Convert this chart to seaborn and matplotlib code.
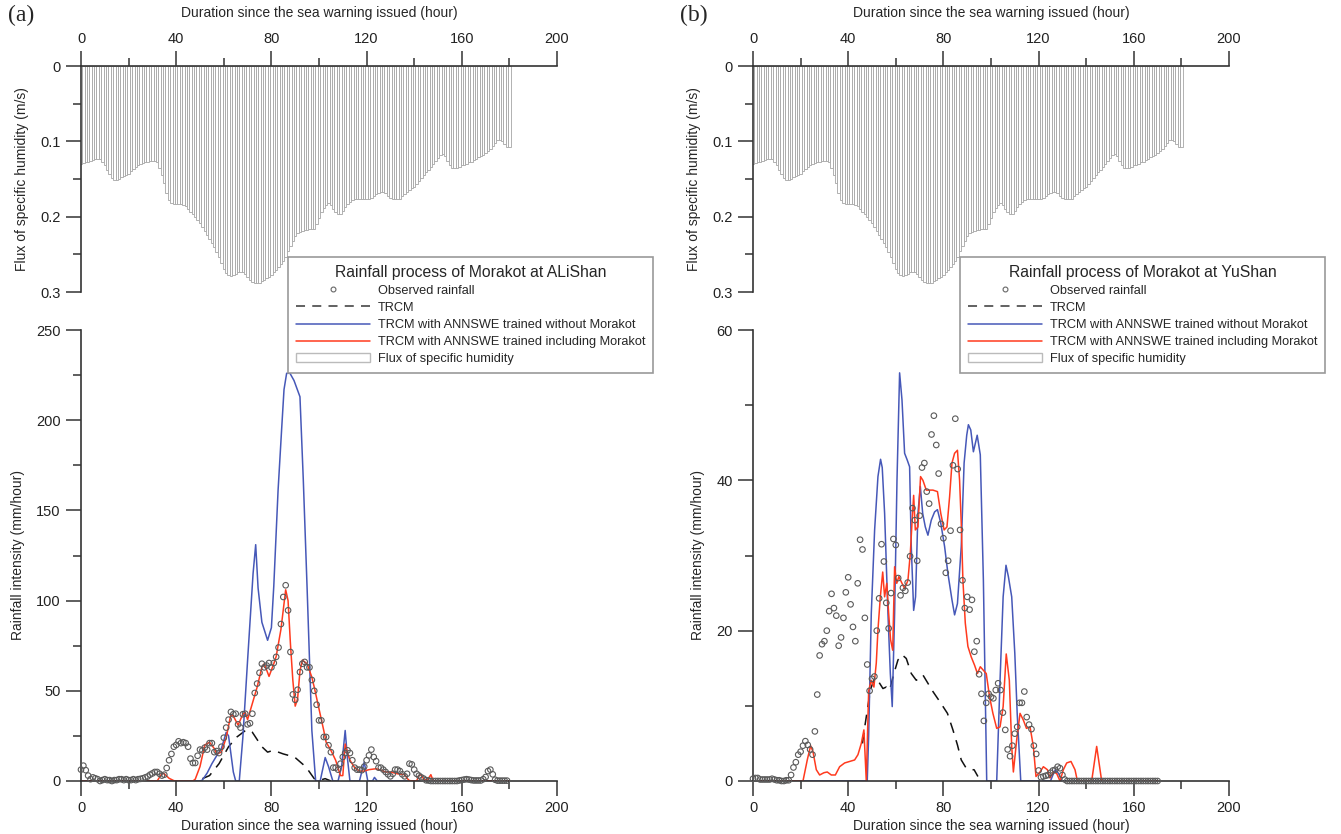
import numpy as np
import seaborn as sns
import matplotlib.pyplot as plt
from matplotlib.lines import Line2D
from matplotlib.patches import Patch

# flux of specific humidity (m/s), hourly from hour 0 to 180 (same record in both panels)
flux = [
    .130, .129, .128, .127, .126, .125, .124, .124, .124, .127,
    .132, .138, .144, .149, .151, .151, .150, .148, .146, .145,
    .143, .140, .137, .134, .132, .130, .129, .128, .127, .126,
    .126, .126, .127, .135, .145, .155, .168, .178, .182, .183,
    .183, .183, .183, .184, .186, .190, .194, .197, .200, .204,
    .209, .214, .219, .224, .230, .235, .240, .247, .254, .262,
    .269, .275, .278, .279, .278, .276, .274, .273, .273, .276,
    .280, .284, .287, .288, .288, .288, .286, .284, .282, .280,
    .277, .274, .271, .267, .263, .259, .253, .246, .239, .232,
    .226, .222, .220, .219, .218, .218, .217, .217, .216, .210,
    .202, .194, .188, .184, .182, .185, .190, .194, .196, .196,
    .192, .187, .183, .180, .178, .177, .176, .176, .176, .176,
    .176, .176, .175, .173, .170, .168, .167, .167, .169, .172,
    .175, .177, .177, .177, .176, .173, .170, .167, .164, .162,
    .160, .157, .153, .149, .145, .141, .138, .134, .130, .126,
    .122, .118, .117, .120, .126, .132, .135, .136, .135, .134,
    .132, .131, .130, .128, .127, .125, .123, .121, .119, .118,
    .116, .113, .110, .106, .102, .098, .098, .100, .104, .107,
    .108,
]

# (a) ALiShan -- observed rainfall (mm/hour), hourly from hour 0 to 179
obs_a = [
    6.3, 8.5, 6, 3, 1, 2, 1.5, 1, 0, 0.5,
    1, 0.5, 0.5, 0, 0.5, 0.5, 1, 1, 0.5, 1,
    0.5, 0.5, 1, 0.5, 1, 1.2, 1.5, 2, 2.5, 3.5,
    4.2, 5, 5, 4, 3, 3.5, 7.2, 11.5, 15, 19,
    20, 22, 21, 21.5, 21, 19, 12.4, 10, 10, 14,
    17.4, 17, 18.5, 17.4, 21, 21, 16, 16.6, 15.5, 19,
    24, 29.6, 34, 38.3, 37, 37.3, 31.4, 29.6, 37, 37.3,
    31.4, 32, 37.3, 48.8, 54, 60, 65, 63, 64, 65.4,
    63, 65.4, 68.8, 74, 87, 102, 108.5, 94.6, 71.5, 48,
    45, 50.6, 60.4, 65, 66, 63, 63, 56, 50, 42.3,
    33.6, 33.6, 24.4, 24.4, 19.8, 16, 7.4, 7.4, 6.3, 9.6,
    13.3, 15.5, 17, 15.5, 11.5, 7.4, 6.3, 6.3, 6, 8,
    11.5, 14.2, 17.4, 13.3, 11, 7.4, 7.4, 6.3, 5, 3.7,
    2.6, 4, 6.3, 6.3, 5.5, 3.7, 2.6, 4, 9.6, 9.2,
    6.3, 4, 3, 2, 1.3, 0.4, 0.3, 0, 0, 0,
    0, 0, 0, 0, 0, 0, 0, 0, 0, 0.3,
    0.5, 0.8, 1, 0.8, 0.5, 0.3, 0.3, 0.3, 0.3, 1,
    2.2, 5.5, 6.3, 3.7, 0.7, 0.2, 0.2, 0.2, 0.2, 0.2,
]

trcm_a_h = [51, 54, 58, 62, 65.5, 69.6, 72, 76, 78.4, 80.8, 85, 89.7, 94.5, 98, 100, 102.6, 105]
trcm_a_v = [1.3, 3, 9.6, 19, 24.4, 28.5, 27, 19, 16, 17, 15, 13.3, 7.8, 1.3, 0.3, 1.3, 0]

blue_a_h = [0, 50, 51, 53, 55, 57, 59, 61, 62, 63, 64, 65, 66.5, 68, 70, 72.3, 73.4, 74.4,
            76, 78.4, 80, 81, 82.8, 84.3, 85.3, 86.4, 87.8, 89.5, 92, 93.4, 95, 97, 98.6,
            100.5, 102.6, 104, 105.8, 108, 109.5, 111, 112, 113, 117, 119, 120.5, 122.5,
            123.3, 124.5, 180]
blue_a_v = [0, 0, 0.5, 4.4, 9.6, 14, 18, 27, 25, 15, 5, 0, 0, 24, 67, 115, 131, 107,
            88, 78, 85, 108, 161, 195, 217, 226, 226, 222, 213, 167, 107, 28, 0,
            0, 13, 8, 0, 0, 8, 28, 12, 0, 0, 10.5, 0, 0,
            2, 0, 0]

red_a_h = [0, 32, 34, 35, 37, 39, 40, 47, 48, 50, 52, 54, 56, 57, 59, 61, 63, 64, 66, 68,
           69, 70, 72, 74, 76, 77, 79, 81, 82, 84, 86, 87, 88, 89, 90, 91, 92, 93, 95, 97,
           98, 100, 102, 103, 105, 107, 109, 110, 111, 112, 113, 115, 117, 119, 121, 124,
           126, 128, 130, 133, 136, 137, 138, 141, 142, 143, 144, 145, 146, 147, 148, 180]
red_a_v = [0, 0, 4.2, 4, 1.5, 0.2, 0, 0, 1, 8, 20, 21.5, 18, 15, 16, 24, 37, 36, 31, 37,
           38, 34, 43, 52, 63, 65, 58, 65, 69, 84, 106, 100, 76, 56, 41.5, 45.5, 61, 67, 65, 57.5,
           52, 40, 28, 21.5, 17, 11.5, 3, 3, 20.5, 15.5, 11.5, 7.4, 5.5, 5.5, 6.3, 6.8,
           6, 5, 5, 4, 3.5, 1.5, 0.2, 0, 3, 3.5, 1, 0.3, 1.5, 3.5, 0, 0]

# (b) YuShan -- observed rainfall (mm/hour), hourly from hour 0 to 170
obs_b = [
    0.3, 0.4, 0.4, 0.2, 0.2, 0.2, 0.2, 0.2, 0.3, 0.2,
    0.1, 0.1, 0, 0, 0.1, 0.1, 0.8, 1.8, 2.5, 3.5,
    3.9, 4.7, 5.3, 4.8, 4.2, 3.5, 6.6, 11.5, 16.7, 18.2,
    18.6, 20.0, 22.6, 24.9, 23.0, 22.0, 18.0, 19.1, 21.7, 25.1,
    27.1, 23.5, 20.5, 18.6, 26.3, 32.1, 30.8, 21.7, 15.5, 12.0,
    13.6, 13.9, 20.0, 24.3, 31.5, 29.2, 23.7, 20.3, 25.0, 32.2,
    31.4, 27.0, 24.7, 25.7, 25.3, 26.4, 29.9, 36.3, 34.7, 29.3,
    35.3, 41.7, 42.3, 38.5, 36.9, 46.1, 48.6, 44.7, 40.9, 34.2,
    32.3, 27.7, 29.3, 33.3, 42.0, 48.2, 41.5, 33.4, 26.7, 23.0,
    24.5, 22.8, 24.1, 17.2, 18.6, 14.2, 11.6, 8.0, 10.4, 11.6,
    11.2, 11.0, 12.1, 13.0, 12.1, 9.1, 6.8, 4.2, 3.3, 4.7,
    6.3, 7.2, 10.4, 10.4, 11.9, 8.5, 7.5, 6.9, 4.7, 3.6,
    1.4, 0.5, 0.6, 0.7, 0.8, 1.1, 1.4, 1.5, 1.9, 1.7,
    0.8, 0.2, 0, 0, 0, 0, 0, 0, 0, 0,
    0, 0, 0, 0, 0, 0, 0, 0, 0, 0,
    0, 0, 0, 0, 0, 0, 0, 0, 0, 0,
    0, 0, 0, 0, 0, 0, 0, 0, 0, 0,
    0,
]

trcm_b_h = [46, 47, 48.4, 49.4, 51.1, 52.8, 54.6, 56, 57.4, 59.2, 60.9, 62.6, 64.4, 66.5,
            68.6, 71.4, 73.5, 75.6, 78.4, 81.7, 84, 85.9, 87.5, 89.6, 91.5, 92.9, 94.5]
trcm_b_v = [5, 7.3, 10.2, 12.2, 13.7, 13.2, 12.3, 12.5, 12.1, 14.3, 16.1, 16.8, 16.3, 14.3,
            13.4, 14.1, 13, 11.9, 10.6, 9, 6.8, 4.8, 2.8, 1.7, 1.5, 1.5, 0.6]

blue_b_h = [0, 48, 48.6, 49.7, 51.1, 52.5, 53.6, 54.3, 55.3, 56.7, 57.7, 58.5, 59.5, 60.5,
            61.6, 62.6, 63.7, 64.8, 65.8, 66.5, 67.5, 68.3, 69.3, 70.3, 71.3, 72.4, 73.5,
            74.9, 76.3, 77.5, 78.9, 80.5, 81.9, 83.6, 84.7, 85.9, 87.5, 88.7, 89.8, 90.5,
            91.5, 92.6, 94.2, 95.5, 96.8, 98.2, 102.4, 103.8, 105.1, 106.3, 107.3, 108.7,
            110, 111, 112.5, 125, 126, 127, 128.4, 129.8, 170]
blue_b_v = [0, 0, 6, 22.3, 33.4, 40.5, 42.8, 41.7, 35.6, 22.3, 14.3, 9.9, 22.3, 40,
            54.3, 50.7, 43.6, 42.7, 41.8, 31.2, 22.7, 24.5, 35.6, 39.2, 35.6, 33.8, 32.7,
            34.7, 35.8, 36.1, 34.3, 31.2, 27.6, 24.1, 22.1, 23.6, 31.2, 42.3, 46, 47.4,
            46.7, 43.8, 46, 43.4, 26.7, 0, 0, 13.4, 24.5, 28.7, 27.2, 24.5,
            17, 9, 0, 0, 0.8, 1.5, 1, 0, 0]

red_b_h = [0, 21, 22.8, 24.2, 25.2, 26.6, 28, 29.8, 31.2, 32.9, 34.6, 36.4, 38.5, 40.6,
           42.7, 44.1, 45.5, 46.6, 47.6, 48.6, 49.7, 50.8, 51.8, 52.5, 53.5, 54.5, 55.3,
           56.2, 57, 57.8, 58.7, 59.5, 60.4, 61.3, 62.3, 63.7, 65.1, 66.1, 66.8, 67.5,
           68.2, 69.3, 70.4, 71.4, 72.8, 74.2, 75.6, 77.5, 78.9, 80.3, 81.5, 82.6, 83.6,
           84.7, 85.9, 86.8, 87.5, 88.2, 89.2, 90.3, 91.7, 93.1, 94.3, 95.5, 96.6, 98,
           99.4, 100.8, 102.4, 103.8, 105.1, 106.4, 107.7, 108.7, 109.4, 110.8, 112.2,
           113.6, 114.9, 116.4, 117.8, 118.9, 120.6, 122, 123.7, 124.8, 126.2, 127.6, 129,
           130.4, 131.8, 133.6, 135.3, 136.3, 142.3, 144.4, 146.5, 170]
red_b_v = [0, 0, 2.8, 4.7, 3.9, 1.5, 0.8, 1.1, 1.2, 0.8, 0.8, 1.9, 2.4, 2.6,
           2.8, 3.5, 5, 6.8, 0, 12, 13.4, 12.5, 15.7, 20.1, 24.5, 27.8, 24.5,
           26.3, 22.3, 18.8, 17.4, 28.5, 26.3, 27.2, 26.5, 25.6, 26.7, 30.3, 34.3, 38,
           33.4, 33.8, 40.5, 40, 38.7, 38.7, 38.7, 38.5, 35.6, 33.4, 33.8, 37.8, 42.3,
           43.6, 44, 40, 34.3, 26.7, 21, 17.9, 16.5, 15.4, 14.3, 15.2, 14.8, 14.3,
           11.2, 9, 7, 7.2, 9.9, 16.9, 13.4, 4.6, 1.2, 5.5, 9,
           8.1, 7, 7.2, 4.6, 0.6, 1.2, 1.9, 1.5, 0.4, 1.2, 1, 0,
           1.5, 2.4, 2.6, 1.5, 0, 0, 4.6, 0, 0]

BLUE = '#4658b8'
RED = '#ff3a1e'
AX_C = '#333333'
XLAB = 'Duration since the sea warning issued (hour)'

sns.set_style('ticks')
plt.rcParams['font.family'] = ['Liberation Sans', 'DejaVu Sans']
plt.rcParams['axes.edgecolor'] = AX_C
plt.rcParams['axes.linewidth'] = 1.2

fig = plt.figure(figsize=(13.41, 8.34), dpi=100)
W = 476 / 1341


def style_ticks(ax):
    ax.tick_params(which='major', length=11, width=1.1, color=AX_C, labelsize=10.5,
                   labelcolor='#222222', direction='out')
    ax.tick_params(which='minor', length=5.5, width=1.1, color=AX_C, direction='out')


def panel(left, letter, station, obs, trcm_h, trcm_v, blue_h, blue_v, red_h, red_v,
          ymax, ystep):
    # top: flux of specific humidity, bars hanging from zero
    ax_t = fig.add_axes([left, (834 - 292) / 834, W, 226 / 834])
    sns.histplot(x=np.arange(len(flux)), weights=flux, discrete=True, shrink=1,
                 color='white', edgecolor='#a5a5a5', linewidth=0.6, alpha=1, ax=ax_t)
    ax_t.set_xlim(0, 200)
    ax_t.set_ylim(0.3, 0)
    ax_t.spines[['bottom', 'right']].set_visible(False)
    ax_t.xaxis.tick_top()
    ax_t.xaxis.set_label_position('top')
    ax_t.set_xticks(range(0, 201, 40))
    ax_t.set_xticks(range(20, 200, 40), minor=True)
    ax_t.set_yticks([0, 0.1, 0.2, 0.3], ['0', '0.1', '0.2', '0.3'])
    ax_t.set_yticks([0.05, 0.15, 0.25], minor=True)
    style_ticks(ax_t)
    ax_t.tick_params(axis='x', which='both', top=True, bottom=False)
    ax_t.set_xlabel(XLAB, fontsize=10, labelpad=11)
    ax_t.set_ylabel('Flux of specific humidity (m/s)', fontsize=10, labelpad=8)

    # bottom: rainfall hydrographs
    ax_b = fig.add_axes([left, 53 / 834, W, 451 / 834])
    sns.lineplot(x=trcm_h, y=trcm_v, color='#111111', lw=1.1, linestyle=(0, (7, 5)), ax=ax_b)
    sns.lineplot(x=blue_h, y=blue_v, color=BLUE, lw=1.1, ax=ax_b)
    sns.lineplot(x=red_h, y=red_v, color=RED, lw=1.1, ax=ax_b)
    sns.scatterplot(x=np.arange(len(obs)), y=obs, marker='o', s=16, facecolor='none',
                    edgecolor='#5a5a5a', linewidth=0.8, clip_on=False, zorder=3, ax=ax_b)
    ax_b.set_xlim(0, 200)
    ax_b.set_ylim(0, ymax)
    ax_b.spines[['top', 'right']].set_visible(False)
    ax_b.set_xticks(range(0, 201, 40))
    ax_b.set_xticks(range(20, 200, 40), minor=True)
    ax_b.set_yticks(np.arange(0, ymax + 1, ystep))
    ax_b.set_yticks(np.arange(ystep / 2, ymax, ystep), minor=True)
    style_ticks(ax_b)
    ax_b.set_xlabel(XLAB, fontsize=10, labelpad=3)
    ax_b.set_ylabel('Rainfall intensity (mm/hour)', fontsize=10, labelpad=8)

    fig.text(left - 73 / 1341, 1 - 15 / 834, letter, family=['Liberation Serif', 'DejaVu Serif'],
             fontsize=17, va='center', ha='left')

    handles = [
        Line2D([], [], ls='none', marker='o', ms=3.5, mfc='none', mec='#666666', mew=0.8),
        Line2D([], [], color='#555555', lw=1.3, linestyle=(0, (5, 4))),
        Line2D([], [], color=BLUE, lw=1.1),
        Line2D([], [], color=RED, lw=1.1),
        Patch(facecolor='white', edgecolor='#bbbbbb', lw=1),
    ]
    labels = ['Observed rainfall', 'TRCM', 'TRCM with ANNSWE trained without Morakot',
              'TRCM with ANNSWE trained including Morakot', 'Flux of specific humidity']
    leg = fig.legend(handles, labels, loc='upper left',
                     bbox_to_anchor=(left + 207 / 1341, 1 - 257 / 834), borderaxespad=0,
                     title='Rainfall process of Morakot at ' + station,
                     title_fontsize=11.3, fontsize=9.2, frameon=True, fancybox=False,
                     framealpha=1, edgecolor='#999999', handlelength=5.85,
                     handletextpad=0.6, labelspacing=0.4, borderpad=0.6, numpoints=1)
    leg.get_frame().set_linewidth(1.2)


panel(81 / 1341, '(a)', 'ALiShan', obs_a, trcm_a_h, trcm_a_v, blue_a_h, blue_a_v,
      red_a_h, red_a_v, 250, 50)
panel(753 / 1341, '(b)', 'YuShan', obs_b, trcm_b_h, trcm_b_v, blue_b_h, blue_b_v,
      red_b_h, red_b_v, 60, 20)

fig.savefig('out.png', dpi=100)
